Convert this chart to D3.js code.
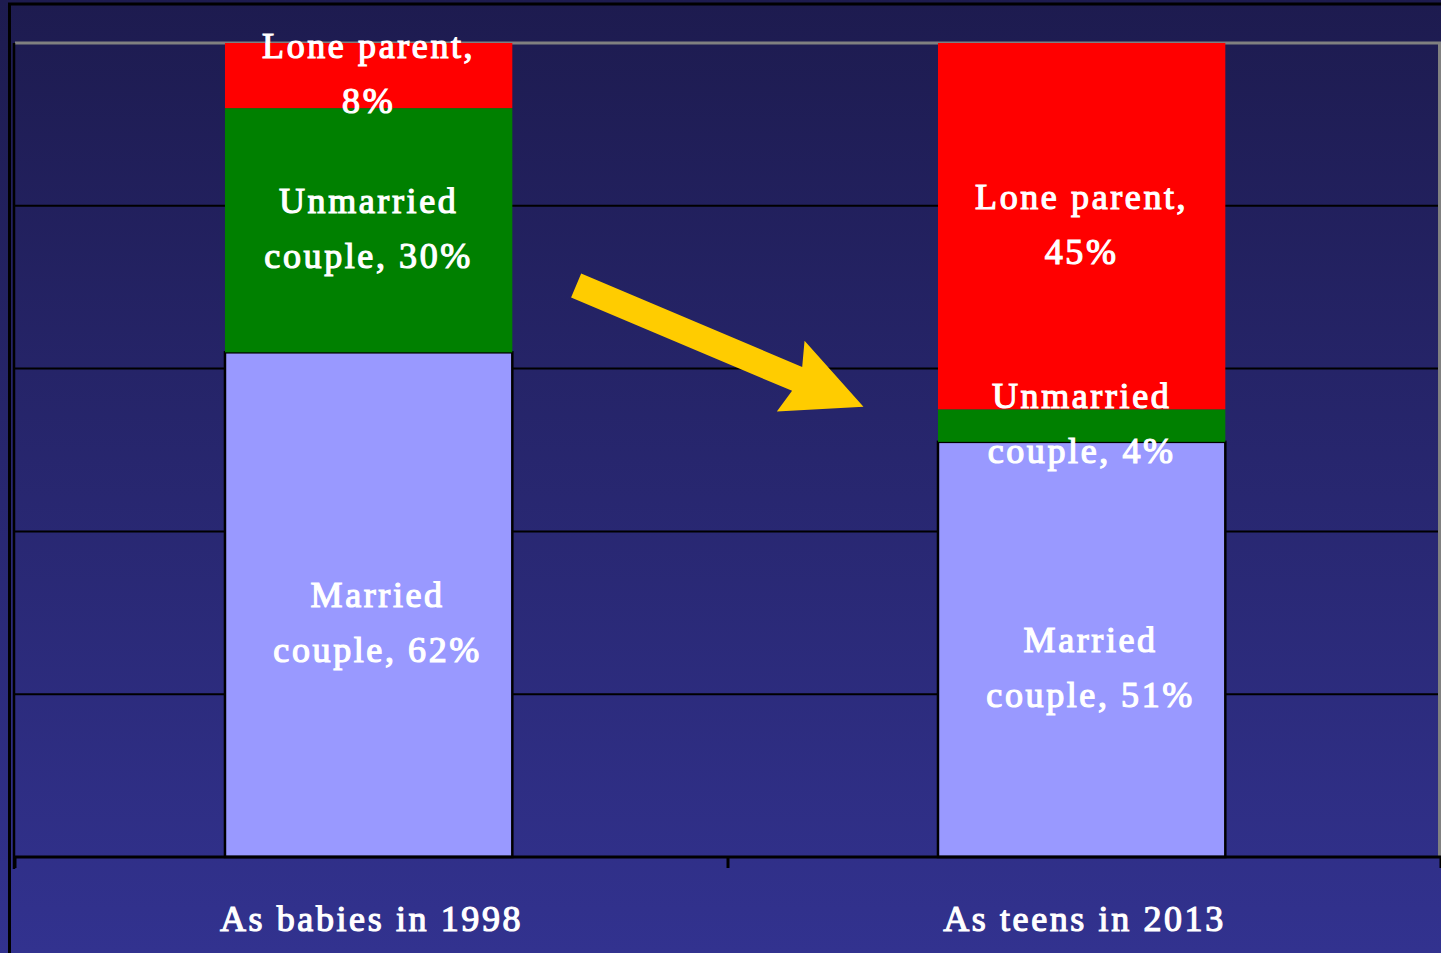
<!DOCTYPE html>
<html>
<head>
<meta charset="utf-8">
<script src="https://cdnjs.cloudflare.com/ajax/libs/d3/7.8.5/d3.min.js"></script>
<style>
  body { margin: 0; background: #1e1c50; }
  svg { display: block; }
  .lbl { font-family: "Liberation Serif", "Times New Roman", serif; fill: #fff; stroke: #fff; stroke-width: 1.2px; letter-spacing: 2.6px; }
</style>
</head>
<body>
<div id="chart-area"></div>
<script>
// data
var categories = ["As babies in 1998", "As teens in 2013"];
var seriesNames = ["Married couple", "Unmarried couple", "Lone parent"];
var married = [62, 51];
var unmarried = [30, 4];
var loneParent = [8, 45];
var yTicks = [0, 20, 40, 60, 80, 100];
var colors = ["#9999ff", "#008000", "#ff0000"];

var W = 1441, H = 953;
var margin = { left: 15, right: 0, top: 43, bottom: 96 };
var width = W - margin.left - margin.right,
    height = H - margin.top - margin.bottom;

var svg = d3.select("#chart-area").append("svg")
    .attr("width", W)
    .attr("height", H);

// background gradient
var grad = svg.append("defs").append("linearGradient")
    .attr("id", "bg").attr("x1", 0).attr("y1", 0).attr("x2", 0).attr("y2", 1);
grad.append("stop").attr("offset", "0%").attr("stop-color", "#1d1b4f");
grad.append("stop").attr("offset", "100%").attr("stop-color", "#32328f");
svg.append("rect").attr("width", W).attr("height", H).attr("fill", "url(#bg)");

// outer frame
svg.append("line").attr("x1", 8).attr("x2", W).attr("y1", 4).attr("y2", 4)
    .attr("stroke", "#000").attr("stroke-width", 3);
svg.append("line").attr("x1", 9.5).attr("x2", 9.5).attr("y1", 3).attr("y2", H)
    .attr("stroke", "#000").attr("stroke-width", 3);

var g = svg.append("g")
    .attr("transform", "translate(" + margin.left + "," + margin.top + ")");

var x = d3.scaleBand().domain(categories).range([0, width]).paddingInner(0).paddingOuter(0);
var y = d3.scaleLinear().domain([0, 100]).range([height, 0]);
var barW = x.bandwidth() * 0.403;
var barOff = x.bandwidth() * 0.2945;

// gridlines
g.selectAll(".grid").data(yTicks.filter(function(d){ return d > 0 && d < 100; }))
  .enter().append("line")
    .attr("x1", 0).attr("x2", width)
    .attr("y1", function(d){ return y(d); }).attr("y2", function(d){ return y(d); })
    .attr("stroke", "#000").attr("stroke-width", 2);
g.append("line").attr("x1", 0).attr("x2", width).attr("y1", y(100)).attr("y2", y(100))
    .attr("stroke", "#808080").attr("stroke-width", 3);
g.append("line").attr("x1", width - 1.5).attr("x2", width - 1.5).attr("y1", y(100)).attr("y2", y(0))
    .attr("stroke", "#808080").attr("stroke-width", 3);

// stacked data
var table = categories.map(function(c, i){
    return { cat: c, "Married couple": married[i], "Unmarried couple": unmarried[i], "Lone parent": loneParent[i] };
});
var stack = d3.stack().keys(seriesNames)(table);

var layers = g.selectAll(".layer").data(stack).enter().append("g")
    .attr("fill", function(d, i){ return colors[i]; });

layers.selectAll("rect").data(function(d){ return d; }).enter().append("rect")
    .attr("x", function(d){ return x(d.data.cat) + barOff; })
    .attr("y", function(d){ return y(d[1]); })
    .attr("width", barW)
    .attr("height", function(d){ return y(d[0]) - y(d[1]); })
    .attr("stroke", function(){ return d3.select(this.parentNode).datum().key === "Married couple" ? "#000" : "none"; })
    .attr("stroke-width", 2.5);

// left axis line
g.append("line").attr("x1", -1).attr("x2", -1).attr("y1", y(100)).attr("y2", height + 12)
    .attr("stroke", "#000").attr("stroke-width", 2.5);

// bottom axis
var xAxisCall = d3.axisBottom(x).tickSize(0).tickPadding(48);
var xAxisGroup = g.append("g").attr("transform", "translate(0," + height + ")").call(xAxisCall);
xAxisGroup.select(".domain").remove();
xAxisGroup.attr("font-family", null).attr("font-size", null);
xAxisGroup.selectAll("text").attr("class", "lbl").attr("font-size", "36px").attr("fill", "#fff");
g.append("line").attr("x1", 0).attr("x2", width).attr("y1", height).attr("y2", height)
    .attr("stroke", "#000").attr("stroke-width", 3);
g.selectAll(".btick").data(categories.concat([null])).enter().append("line")
    .attr("x1", function(d, i){ return i * x.bandwidth(); })
    .attr("x2", function(d, i){ return i * x.bandwidth(); })
    .attr("y1", height).attr("y2", height + 11)
    .attr("stroke", "#000").attr("stroke-width", 3);

// labels
var shortName = { "Married couple": ["Married", "couple, "], "Unmarried couple": ["Unmarried", "couple, "], "Lone parent": ["Lone parent,", ""] };
var labelOffset = { "Married couple": [9, 20], "Unmarried couple": [0, 0], "Lone parent": [0, 0] };
stack.forEach(function(layer){
    layer.forEach(function(d){
        var v = d[1] - d[0];
        var cx = x(d.data.cat) + barOff + barW / 2 + labelOffset[layer.key][0];
        var cy = (y(d[0]) + y(d[1])) / 2 + labelOffset[layer.key][1];
        var t = g.append("text").attr("class", "lbl").attr("font-size", "36px")
            .attr("text-anchor", "middle").attr("x", cx).attr("y", cy);
        t.append("tspan").attr("x", cx).attr("dy", "-0.48em").text(shortName[layer.key][0]);
        t.append("tspan").attr("x", cx).attr("dy", "1.53em").text(shortName[layer.key][1] + v + "%");
    });
});

// arrow annotation between the bars
var ax0 = x(categories[0]) + x.bandwidth() * 0.787, ay0 = y(70.2);
var ax1 = x(categories[1]) + x.bandwidth() * 0.19, ay1 = y(55.3);
var ang = Math.atan2(ay1 - ay0, ax1 - ax0);
var len = Math.hypot(ax1 - ax0, ay1 - ay0);
var sw = 13, hw = 38, hl = 80;
var pts = [[0, -sw], [len - hl + 8, -sw], [len - hl, -hw], [len, 0], [len - hl + 2, hw], [len - hl + 8, sw], [0, sw]];
g.append("polygon")
    .attr("points", pts.map(function(p){ return p.join(","); }).join(" "))
    .attr("transform", "translate(" + ax0 + "," + ay0 + ") rotate(" + (ang * 180 / Math.PI) + ")")
    .attr("fill", "#ffcc00");
</script>
</body>
</html>
